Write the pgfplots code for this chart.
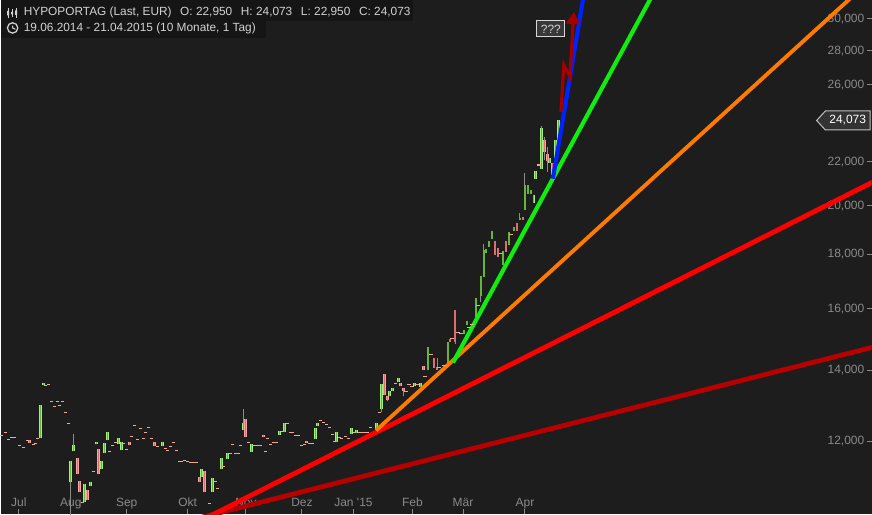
\documentclass[border=0pt]{standalone}
\usepackage{fontspec}
\setmainfont{Liberation Sans}
\usepackage{pgfplots}
\usepackage{pgfplotstable}
\pgfplotsset{compat=1.18}
\usetikzlibrary{shapes.symbols,arrows.meta}
\definecolor{bg}{HTML}{1D1D1D}
\definecolor{hdrbg}{HTML}{151515}
\definecolor{hdr}{HTML}{D2D2D2}
\definecolor{labgray}{HTML}{8A8A8A}
\definecolor{gborder}{HTML}{A6EE80}
\definecolor{gfill}{HTML}{62B836}
\definecolor{pborder}{HTML}{F6A4A4}
\definecolor{pfill}{HTML}{E06C6C}
\definecolor{dashc}{HTML}{F2A894}
\definecolor{wick}{HTML}{8C8C8C}
\definecolor{lred}{HTML}{FF0000}
\definecolor{ldred}{HTML}{B80000}
\definecolor{lorange}{HTML}{FF7A00}
\definecolor{lgreen}{HTML}{10EE10}
\definecolor{lblue}{HTML}{0022FF}
\definecolor{arrowred}{HTML}{A50000}

% green (rising) candle bodies: x, price (nan separates candles)
\pgfplotstableread{
x y
40 12.078
40 12.974
40 nan
43 13.549
43 13.607
43 nan
70 10.980
70 11.491
70 nan
73 11.743
73 11.897
73 nan
84 10.514
84 10.933
84 nan
90 10.886
90 10.980
90 nan
96 11.923
96 11.974
96 nan
101 11.294
101 11.491
101 nan
104 11.693
104 11.949
104 nan
107 12.026
107 12.237
107 nan
118 11.923
118 12.078
118 nan
121 11.769
121 11.974
121 nan
162 11.871
162 11.974
162 nan
201 11.100
201 11.294
201 nan
212 10.745
212 11.075
212 nan
221 11.294
221 11.567
221 nan
227 11.541
227 11.693
227 nan
243 12.290
243 12.477
243 nan
251 11.718
251 11.923
251 nan
279 12.158
279 12.263
279 nan
284 12.237
284 12.477
284 nan
315 12.052
315 12.343
315 nan
317 12.397
317 12.477
317 nan
336 11.974
336 12.237
336 nan
351 12.184
351 12.343
351 nan
356 12.210
356 12.290
356 nan
376 12.290
376 12.477
376 nan
381 12.862
381 13.578
381 nan
389 13.230
389 13.373
389 nan
392 13.373
392 13.461
392 nan
398 13.637
398 13.756
398 nan
414 13.520
414 13.607
414 nan
420 13.490
420 13.607
420 nan
428 13.996
428 14.743
428 nan
448 14.210
448 14.903
448 nan
464 15.162
464 15.296
464 nan
467 15.461
467 15.597
467 nan
476 15.734
476 16.394
476 nan
481 16.466
481 17.195
481 nan
484 17.158
484 18.191
484 nan
486 18.073
486 18.231
486 nan
489 18.311
489 18.550
489 nan
492 18.631
492 18.956
492 nan
503 17.610
503 18.152
503 nan
509 18.390
509 18.914
509 nan
514 18.956
514 19.122
514 nan
520 19.414
520 19.498
520 nan
525 19.839
525 20.943
525 nan
528 20.539
528 20.943
528 nan
531 20.539
531 20.717
531 nan
534 20.142
534 20.494
534 nan
536 21.218
536 21.588
536 nan
542 21.683
542 23.697
542 nan
550 21.965
550 22.206
550 nan
556 21.965
556 23.089
556 nan
559 22.950
559 24.073
}\greentab

% pink (falling) candle bodies
\pgfplotstableread{
x y
29 11.949
29 12.026
29 nan
77 11.171
77 11.567
77 nan
79 10.745
79 11.004
79 nan
87 10.560
87 10.791
87 nan
98 11.171
98 11.794
98 nan
129 11.897
129 11.974
129 nan
154 11.871
154 11.974
154 nan
199 10.980
199 11.100
199 nan
204 10.745
204 11.245
204 nan
245 12.105
245 12.586
245 nan
263 12.105
263 12.158
263 nan
306 11.949
306 12.000
306 nan
384 13.258
384 13.905
384 nan
387 13.115
387 13.230
387 nan
400 13.520
400 13.607
400 nan
403 13.373
403 13.461
403 nan
423 13.996
423 14.146
423 nan
434 14.084
434 14.396
434 nan
437 13.996
437 14.115
437 nan
450 14.903
450 15.001
450 nan
455 14.903
455 15.974
455 nan
495 17.996
495 18.550
495 nan
498 17.918
498 18.271
498 nan
506 18.112
506 18.550
506 nan
517 18.956
517 19.287
517 nan
523 19.414
523 19.541
523 nan
545 22.495
545 23.089
545 nan
548 22.061
548 22.398
548 nan
553 21.401
553 21.965
}\pinktab

% wicks
\pgfplotstableread{
x y
70 10.000
70 10.980
70 nan
73 11.897
73 12.184
73 nan
243 12.477
243 12.862
243 nan
381 12.778
381 12.862
381 nan
387 13.086
387 13.115
387 nan
403 13.230
403 13.373
403 nan
437 14.027
437 14.365
437 nan
455 14.838
455 14.903
455 nan
481 16.252
481 16.466
481 nan
484 18.191
484 18.430
484 nan
520 19.498
520 19.710
520 nan
525 20.943
525 21.495
525 nan
542 23.697
542 23.800
542 nan
545 22.109
545 23.242
545 nan
548 21.541
548 22.741
}\wicktab

% flat candles (open = close)
\pgfplotstableread{
x y
1 12.158
5 12.237
8 12.052
11 12.105
14 12.105
19 11.897
23 11.846
27 12.026
33 11.923
35 11.949
37 12.078
45 13.549
48 13.578
51 13.086
54 12.946
57 13.086
59 12.974
62 13.086
65 12.778
68 12.477
82 10.514
93 11.245
109 11.743
112 11.897
115 11.974
123 11.949
126 11.794
131 12.131
134 12.424
137 12.052
140 12.343
143 12.078
145 12.237
148 12.370
151 12.078
157 11.871
165 11.820
167 11.769
170 11.871
173 11.974
176 11.769
179 11.491
181 11.491
184 11.516
187 11.491
190 11.466
193 11.466
196 11.466
209 10.491
215 11.004
217 10.839
223 11.368
230 11.693
232 11.923
235 11.693
238 11.693
240 11.897
248 11.974
254 11.897
257 11.897
260 11.897
265 11.743
267 12.078
270 11.923
273 11.974
276 11.974
282 12.263
287 12.477
290 12.237
292 12.237
295 12.158
298 12.158
301 11.897
304 11.923
309 11.949
312 11.949
320 12.559
323 12.504
326 12.450
329 12.370
332 12.184
334 12.000
339 12.105
341 12.078
345 12.131
348 12.078
354 12.237
359 12.237
362 12.237
365 12.237
367 12.237
370 12.370
379 12.778
395 13.607
406 13.373
409 13.578
412 13.520
417 13.578
425 13.815
431 14.490
439 14.084
444 14.146
452 15.001
458 15.196
461 15.162
469 15.359
472 15.461
478 16.110
501 18.034
511 18.792
539 21.869
}\dashtab

\begin{document}
\begin{tikzpicture}
\begin{axis}[
  scale only axis, width=654pt, height=386.25pt,
  xmin=0, xmax=872,
  ymode=log, ymin=10.2446, ymax=31.2636,
  axis background/.style={fill=bg},
  axis line style={draw=none},
  unbounded coords=jump,
  tick align=inside,
  major tick length=3.75pt,
  minor tick num=0,
  tick style={draw=labgray, line width=0.75pt},
  xtick pos=left, xticklabel pos=left,
  ytick pos=right, yticklabel pos=right,
  ytick={12,14,16,18,20,22,26,28,30},
  yticklabels={{12,000},{14,000},{16,000},{18,000},{20,000},{22,000},{26,000},{28,000},{30,000}},
  yticklabel style={anchor=east, inner sep=0pt, xshift=-5.25pt, text=labgray, font=\fontsize{9}{10}\selectfont},
  xtick={18.3,70.3,126.3,187.3,245.7,301.7,353.3,412.3,463,525},
  xticklabels={Jul,Aug,Sep,Okt,Nov,Dez,Jan \textquotesingle15,Feb,Mär,Apr},
  xticklabel style={anchor=base, inner sep=0pt, yshift=6pt, text=labgray, font=\fontsize{9}{10}\selectfont},
]
% wicks
\addplot[no markers, color=wick, line width=0.75pt] table[x=x,y=y] {\wicktab};
% candle bodies
\addplot[no markers, color=gborder, line width=0.65pt, double=gfill, double distance=0.85pt, line cap=butt] table[x=x,y=y] {\greentab};
\addplot[no markers, color=pborder, line width=0.65pt, double=pfill, double distance=0.85pt, line cap=butt] table[x=x,y=y] {\pinktab};
\addplot[only marks, mark=-, mark size=1.2pt, color=dashc, mark options={line width=1.2pt}] table[x=x,y=y] {\dashtab};
% trend lines
\addplot[no markers, color=ldred, line width=3.6pt] coordinates {(190,10.117) (880,14.775)};
\addplot[no markers, color=lred, line width=3.6pt] coordinates {(190,9.990) (880,21.218)};
\addplot[no markers, color=lorange, line width=2.9pt] coordinates {(376,12.290) (870.95,32.65)};
\addplot[no markers, color=lgreen, line width=3.1pt] coordinates {(453,14.240) (660.9,32.65)};
\addplot[no markers, color=lblue, line width=3.1pt] coordinates {(553,21.218) (586.4,32.65)};
\addplot[no markers, color=arrowred, line width=2.4pt, line join=miter, -{Triangle[width=10.5pt,length=9pt]}] coordinates {(561,24.532) (564,27.156) (570,26.46) (574,30.46)};
% annotations
\node[draw=hdr!90, fill=black!78, text=hdr, line width=0.75pt, inner sep=1.2pt, minimum width=21pt, minimum height=12pt, font=\fontsize{9}{10}\selectfont] at (axis cs:551,29.36) {???};
\node[signal, signal to=west, signal pointer angle=95, draw=black!25, fill=black!80, text=white, line width=0.75pt, inner xsep=3pt, minimum height=14.25pt, anchor=east, font=\fontsize{9}{10}\selectfont] at (axis cs:871,24.073) {24,073};
% header
\fill[hdrbg] (axis description cs:0,1) rectangle (axis description cs:0.4736,0.9592);
\fill[hdrbg] (axis description cs:0,0.9592) rectangle (axis description cs:0.3050,0.9262);
\node[anchor=west, inner sep=0pt, text=hdr, font=\fontsize{8.9}{10}\selectfont] at (axis description cs:0.0264,0.9767) {HYPOPORTAG (Last, EUR)\hspace{6.5pt}O: 22,950\hspace{6.5pt}H: 24,073\hspace{6.5pt}L: 22,950\hspace{6.5pt}C: 24,073};
\node[anchor=west, inner sep=0pt, text=hdr, font=\fontsize{8.9}{10}\selectfont] at (axis description cs:0.0264,0.9456) {19.06.2014 - 21.04.2015 (10 Monate, 1 Tag)};
% header icons
\draw[hdr, line width=0.6pt] (axis description cs:0.0086,0.9845) -- (axis description cs:0.0086,0.9650)
  (axis description cs:0.0132,0.9825) -- (axis description cs:0.0132,0.9670)
  (axis description cs:0.0178,0.9845) -- (axis description cs:0.0178,0.9650);
\fill[hdr] (axis description cs:0.0074,0.9790) rectangle (axis description cs:0.0098,0.9700)
  (axis description cs:0.0120,0.9770) rectangle (axis description cs:0.0144,0.9720)
  (axis description cs:0.0166,0.9800) rectangle (axis description cs:0.0190,0.9710);
\draw[hdr, line width=0.95pt] (axis description cs:0.0138,0.9456) circle[radius=3.9pt];
\draw[hdr, line width=0.8pt] (axis description cs:0.0138,0.9500) -- (axis description cs:0.0138,0.9456) -- (axis description cs:0.0170,0.9430);
\end{axis}
\end{tikzpicture}
\end{document}
